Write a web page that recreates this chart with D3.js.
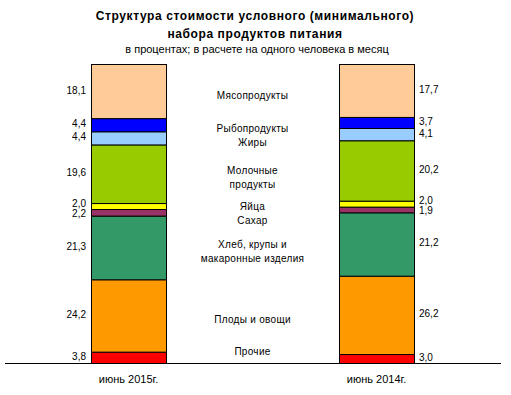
<!DOCTYPE html>
<html>
<head>
<meta charset="utf-8">
<script src="https://cdn.jsdelivr.net/npm/d3@7"></script>
<style>
  body { margin: 0; background: #fff; }
  text { font-family: "Liberation Sans", Arial, sans-serif; fill: #000; }
  .title { font-size: 12px; font-weight: bold; letter-spacing: 0.6px; }
  .sub { font-size: 11px; }
  .val { font-size: 10px; }
  .cat { font-size: 10px; letter-spacing: 0.3px; }
  .xlab { font-size: 11px; }
</style>
</head>
<body>
<svg width="511" height="395"></svg>
<script>
// categories, bottom to top
const categories = ["Прочие", "Плоды и овощи", "Хлеб, крупы и\nмакаронные изделия", "Сахар", "Яйца",
  "Молочные\nпродукты", "Жиры", "Рыбопродукты", "Мясопродукты"];
const colors = ["#ff0000", "#ff9900", "#339966", "#993366", "#ffff00", "#99cc00", "#99ccff", "#0000ff", "#ffcc99"];
const periods = ["июнь 2015г.", "июнь 2014г."];
const values2015 = [3.8, 24.2, 21.3, 2.2, 2.0, 19.6, 4.4, 4.4, 18.1];
const values2014 = [3.0, 26.2, 21.2, 1.9, 2.0, 20.2, 4.1, 3.7, 17.7];

const svg = d3.select("svg");

svg.append("text").attr("class", "title").attr("x", 255).attr("y", 20)
  .attr("text-anchor", "middle").text("Структура стоимости условного (минимального)");
svg.append("text").attr("class", "title").attr("x", 255).attr("y", 38)
  .attr("text-anchor", "middle").text("набора продуктов питания");
svg.append("text").attr("class", "sub").attr("x", 257).attr("y", 53)
  .attr("text-anchor", "middle").text("в процентах; в расчете на одного человека в месяц");

const x = d3.scaleBand().domain(periods).range([91, 414]).paddingInner(0.6976).paddingOuter(0);
const y = d3.scaleLinear().domain([0, 100]).range([363, 64]);

const series = [values2015, values2014];
const stacks = series.map(vals => {
  let acc = 0;
  return vals.map((v, i) => { const s = { i, v, y0: acc, y1: acc + v }; acc += v; return s; });
});

// push overlapping labels apart, both ways
function dodge(items, gap, maxY) {
  items.sort((a, b) => a.y - b.y);
  for (let it = 0; it < 60; it++) {
    for (let k = 1; k < items.length; k++) {
      const a = items[k - 1], b = items[k];
      const need = a.h / 2 + b.h / 2 + gap;
      const d = b.y - a.y;
      if (d < need) { a.y -= (need - d) / 2; b.y += (need - d) / 2; }
    }
    items.forEach(o => { if (o.y + o.h / 2 > maxY) o.y = maxY - o.h / 2; });
  }
  return items;
}

stacks.forEach((st, si) => {
  const bx = x(periods[si]);
  svg.append("g").selectAll("rect").data(st).enter().append("rect")
    .attr("x", bx + 0.5)
    .attr("y", d => y(d.y1) + 0.5)
    .attr("width", x.bandwidth())
    .attr("height", d => y(d.y0) - y(d.y1))
    .attr("fill", d => colors[d.i])
    .attr("stroke", "#000").attr("stroke-width", 1);

  const labs = dodge(st.map(d => ({ d, y: (y(d.y0) + y(d.y1)) / 2 - 1, h: 8 })), 2, 362);
  svg.append("g").selectAll("text").data(labs).enter().append("text")
    .attr("class", "val")
    .attr("x", si === 0 ? bx - 5 : bx + x.bandwidth() + 5)
    .attr("y", d => d.y)
    .attr("dy", "0.35em")
    .attr("text-anchor", si === 0 ? "end" : "start")
    .text(d => d3.format(".1f")(d.d.v).replace(".", ","));
});

// category labels in the gap between the bars
const lineH = 14;
const cats = dodge(categories.map((c, i) => {
  const lines = c.split("\n");
  const mid = (y(stacks[0][i].y0) + y(stacks[0][i].y1)) / 2;
  return { lines, y: mid + 4, h: lines.length * lineH };
}), 0, 358);
const cx = (x(periods[0]) + x.bandwidth() + x(periods[1])) / 2;
cats.forEach(c => {
  c.lines.forEach((ln, k) => {
    svg.append("text").attr("class", "cat")
      .attr("x", cx)
      .attr("y", c.y - c.h / 2 + lineH * k + lineH / 2)
      .attr("dy", "0.35em")
      .attr("text-anchor", "middle")
      .text(ln);
  });
});

svg.append("line").attr("x1", 5).attr("x2", 501).attr("y1", 363.5).attr("y2", 363.5)
  .attr("stroke", "#000");

svg.append("g").selectAll("text").data(periods).enter().append("text")
  .attr("class", "xlab")
  .attr("x", d => x(d) + x.bandwidth() / 2)
  .attr("y", 383)
  .attr("text-anchor", "middle")
  .text(d => d);
</script>
</body>
</html>
